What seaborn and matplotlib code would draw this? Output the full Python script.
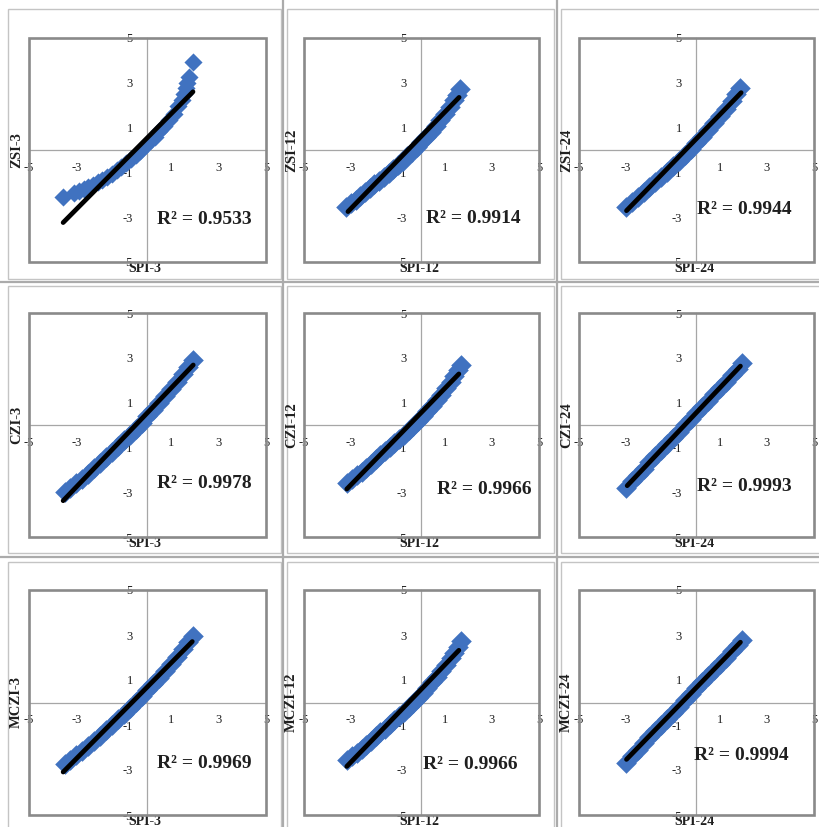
import matplotlib
matplotlib.use("Agg")
import matplotlib.pyplot as plt
import seaborn as sns
from matplotlib.patches import Rectangle
from matplotlib.lines import Line2D

# ---------------- data ----------------
x_labels = ["SPI-3", "SPI-12", "SPI-24"] * 3
y_labels = ["ZSI-3", "ZSI-12", "ZSI-24",
            "CZI-3", "CZI-12", "CZI-24",
            "MCZI-3", "MCZI-12", "MCZI-24"]
r2_values = ["0.9533", "0.9914", "0.9944",
             "0.9978", "0.9966", "0.9993",
             "0.9969", "0.9966", "0.9994"]
tick_values = [-5, -3, -1, 1, 3, 5]

zsi3_x = [-3.56, -3.1, -2.9, -2.7, -2.5, -2.3, -2.1, -1.9, -1.7, -1.5, -1.3, -1.1, -0.9, -0.7,
          -0.5, -0.3, -0.1, 0.1, 0.3, 0.5, 0.7, 0.9, 1.1, 1.3, 1.45, 1.55, 1.62, 1.68, 1.74, 1.92]
zsi3_y = [-2.08, -1.92, -1.85, -1.76, -1.66, -1.55, -1.44, -1.32, -1.19, -1.05, -0.9, -0.75, -0.58, -0.4,
          -0.22, -0.03, 0.17, 0.38, 0.6, 0.83, 1.07, 1.33, 1.62, 1.95, 2.25, 2.5, 2.75, 3.0, 3.25, 3.94]
zsi3_trend_x = [-3.56, 1.92]
zsi3_trend_y = [-3.24, 2.6]

zsi12_x = [-3.2, -3.0, -2.8, -2.6, -2.4, -2.2, -2.0, -1.8, -1.6, -1.4, -1.2, -1.0, -0.8, -0.6,
           -0.4, -0.2, 0.0, 0.2, 0.4, 0.6, 0.8, 1.0, 1.2, 1.4, 1.52, 1.65]
zsi12_y = [-2.53, -2.36, -2.21, -2.05, -1.88, -1.71, -1.53, -1.37, -1.19, -1.02, -0.84, -0.65, -0.47, -0.27,
           -0.08, 0.13, 0.34, 0.57, 0.81, 1.05, 1.32, 1.6, 1.9, 2.23, 2.47, 2.72]
zsi12_trend_x = [-3.13, 1.6]
zsi12_trend_y = [-2.75, 2.35]

zsi24_x = [-3.0, -2.75, -2.5, -2.25, -2.0, -1.75, -1.5, -1.25, -1.0, -0.75, -0.5, -0.25, 0.0, 0.25,
           0.5, 0.75, 1.0, 1.25, 1.5, 1.7, 1.85]
zsi24_y = [-2.53, -2.31, -2.09, -1.87, -1.65, -1.43, -1.2, -0.97, -0.73, -0.48, -0.23, 0.04, 0.31, 0.59,
           0.88, 1.19, 1.51, 1.84, 2.2, 2.51, 2.78]
zsi24_trend_x = [-2.98, 1.9]
zsi24_trend_y = [-2.71, 2.56]

czi3_x = [-3.5, -3.25, -3.0, -2.75, -2.5, -2.25, -2.0, -1.75, -1.5, -1.25, -1.0, -0.75, -0.5, -0.25,
          0.0, 0.25, 0.5, 0.75, 1.0, 1.25, 1.5, 1.7, 1.9]
czi3_y = [-3.01, -2.82, -2.61, -2.4, -2.17, -1.93, -1.7, -1.45, -1.21, -0.95, -0.69, -0.43, -0.16, 0.11,
          0.39, 0.68, 0.97, 1.28, 1.59, 1.93, 2.29, 2.59, 2.9]
czi3_trend_x = [-3.56, 1.93]
czi3_trend_y = [-3.38, 2.68]

czi12_x = [-3.15, -2.95, -2.75, -2.55, -2.35, -2.15, -1.95, -1.75, -1.55, -1.35, -1.15, -0.95, -0.75,
           -0.55, -0.35, -0.15, 0.05, 0.25, 0.45, 0.65, 0.85, 1.05, 1.25, 1.4, 1.55, 1.68]
czi12_y = [-2.58, -2.41, -2.25, -2.08, -1.91, -1.72, -1.54, -1.36, -1.18, -1.0, -0.81, -0.63, -0.43,
           -0.24, -0.03, 0.18, 0.39, 0.62, 0.85, 1.1, 1.36, 1.64, 1.93, 2.18, 2.44, 2.68]
czi12_trend_x = [-3.18, 1.59]
czi12_trend_y = [-2.86, 2.28]

czi24_x = [-3.0, -2.75, -2.5, -2.25, -2.0, -1.75, -1.5, -1.25, -1.0, -0.75, -0.5, -0.25, 0.0, 0.25,
           0.5, 0.75, 1.0, 1.25, 1.5, 1.75, 1.95]
czi24_y = [-2.8, -2.5, -2.22, -1.95, -1.67, -1.4, -1.12, -0.85, -0.57, -0.3, -0.02, 0.26, 0.53, 0.81,
           1.09, 1.37, 1.65, 1.93, 2.22, 2.51, 2.75]
czi24_trend_x = [-2.95, 1.87]
czi24_trend_y = [-2.71, 2.63]

mczi3_x = [-3.5, -3.25, -3.0, -2.75, -2.5, -2.25, -2.0, -1.75, -1.5, -1.25, -1.0, -0.75, -0.5, -0.25,
           0.0, 0.25, 0.5, 0.75, 1.0, 1.25, 1.5, 1.7, 1.9]
mczi3_y = [-2.73, -2.54, -2.34, -2.14, -1.92, -1.7, -1.47, -1.23, -1.0, -0.75, -0.51, -0.25, 0.01, 0.27,
           0.54, 0.82, 1.1, 1.4, 1.7, 2.03, 2.38, 2.67, 2.97]
mczi3_trend_x = [-3.56, 1.89]
mczi3_trend_y = [-3.09, 2.71]

mczi12_x = [-3.15, -2.95, -2.75, -2.55, -2.35, -2.15, -1.95, -1.75, -1.55, -1.35, -1.15, -0.95, -0.75,
            -0.55, -0.35, -0.15, 0.05, 0.25, 0.45, 0.65, 0.85, 1.05, 1.25, 1.4, 1.55, 1.68]
mczi12_y = [-2.56, -2.39, -2.23, -2.06, -1.88, -1.7, -1.51, -1.33, -1.16, -0.97, -0.78, -0.6, -0.4,
            -0.21, 0.0, 0.21, 0.42, 0.65, 0.89, 1.13, 1.4, 1.68, 1.97, 2.21, 2.48, 2.72]
mczi12_trend_x = [-3.18, 1.59]
mczi12_trend_y = [-2.84, 2.32]

mczi24_x = [-3.0, -2.75, -2.5, -2.25, -2.0, -1.75, -1.5, -1.25, -1.0, -0.75, -0.5, -0.25, 0.0, 0.25,
            0.5, 0.75, 1.0, 1.25, 1.5, 1.75, 1.95]
mczi24_y = [-2.7, -2.38, -2.1, -1.82, -1.54, -1.26, -0.99, -0.72, -0.45, -0.18, 0.09, 0.36, 0.63, 0.9,
            1.17, 1.44, 1.71, 1.99, 2.27, 2.55, 2.78]
mczi24_trend_x = [-2.98, 1.87]
mczi24_trend_y = [-2.53, 2.68]

scatter_x = [zsi3_x, zsi12_x, zsi24_x, czi3_x, czi12_x, czi24_x, mczi3_x, mczi12_x, mczi24_x]
scatter_y = [zsi3_y, zsi12_y, zsi24_y, czi3_y, czi12_y, czi24_y, mczi3_y, mczi12_y, mczi24_y]
trend_x = [zsi3_trend_x, zsi12_trend_x, zsi24_trend_x, czi3_trend_x, czi12_trend_x,
           czi24_trend_x, mczi3_trend_x, mczi12_trend_x, mczi24_trend_x]
trend_y = [zsi3_trend_y, zsi12_trend_y, zsi24_trend_y, czi3_trend_y, czi12_trend_y,
           czi24_trend_y, mczi3_trend_y, mczi12_trend_y, mczi24_trend_y]

# ---------------- layout ----------------
W, H = 820, 827
col_left = [29, 304, 579]
col_width = [237, 235, 235]
row_top = [38, 313, 590]
row_height = [224, 224, 225]
# R² label positions (data coords: left x, centre y)
r2_pos = [(0.42, -3.1), (0.2, -3.05), (0.03, -2.65),
          (0.41, -2.63), (0.66, -2.89), (0.03, -2.74),
          (0.41, -2.72), (0.06, -2.76), (-0.11, -2.36)]
marker_size = [85, 110, 110, 110, 110, 110, 110, 110, 110]

sns.set_theme(style="white")
plt.rcParams["font.family"] = ["Liberation Serif", "DejaVu Serif"]

BLUE = "#4072c0"
FRAME = "#8a8a8a"
AXLINE = "#a6a6a6"
TEXT = "#1f1f1f"

fig = plt.figure(figsize=(W / 100, H / 100), dpi=100)
fig.patch.set_facecolor("white")

# chart-area frames and table grid lines (decoration)
chart_cols = [(8, 281), (287, 554), (561, 823)]
chart_rows = [(9, 279), (286, 553), (562, 832)]
for (cx0, cx1) in chart_cols:
    for (cy0, cy1) in chart_rows:
        fig.add_artist(Rectangle((cx0 / W, 1 - cy1 / H), (cx1 - cx0) / W, (cy1 - cy0) / H,
                                 transform=fig.transFigure, fill=False,
                                 edgecolor="#c4c4c4", linewidth=1.0, zorder=0))
for vx in [283, 557]:
    fig.add_artist(Line2D([vx / W, vx / W], [0, 1], transform=fig.transFigure,
                          color="#ababab", linewidth=1.6, zorder=0))
for hy in [282, 557]:
    fig.add_artist(Line2D([0, 1], [1 - hy / H, 1 - hy / H], transform=fig.transFigure,
                          color="#ababab", linewidth=1.6, zorder=0))

for i in range(9):
    r, c = divmod(i, 3)
    left = col_left[c] / W
    width = col_width[c] / W
    height = row_height[r] / H
    bottom = 1 - (row_top[r] + row_height[r]) / H
    ax = fig.add_axes([left, bottom, width, height])
    ax.set_facecolor("white")

    sns.scatterplot(x=scatter_x[i], y=scatter_y[i], marker="D", s=marker_size[i], color=BLUE,
                    linewidth=0, ax=ax, zorder=3)
    sns.lineplot(x=trend_x[i], y=trend_y[i], color="black", linewidth=3.4,
                 estimator=None, sort=False, ax=ax, zorder=4)

    ax.set_xlim(-5, 5)
    ax.set_ylim(-5, 5)
    ax.set_xticks(tick_values)
    ax.set_yticks(tick_values)
    ax.set_xticklabels([str(t) for t in tick_values])
    ax.set_yticklabels([str(t) for t in tick_values])

    for side in ["top", "right"]:
        ax.spines[side].set_visible(False)
    ax.spines["left"].set_position(("data", 0))
    ax.spines["bottom"].set_position(("data", 0))
    for side in ["left", "bottom"]:
        ax.spines[side].set_color(AXLINE)
        ax.spines[side].set_linewidth(0.9)
        ax.spines[side].set_zorder(1)
    ax.add_patch(Rectangle((0, 0), 1, 1, transform=ax.transAxes, fill=False,
                           edgecolor=FRAME, linewidth=1.9, zorder=5, clip_on=False))

    ax.tick_params(axis="x", length=0, pad=8.5, labelsize=9, labelcolor=TEXT)
    ax.tick_params(axis="y", length=0, pad=10.5, labelsize=9, labelcolor=TEXT)

    ax.set_xlabel(x_labels[i], fontsize=10, fontweight="bold", color=TEXT)
    ax.set_ylabel(y_labels[i], fontsize=10.5, fontweight="bold", color=TEXT)
    ax.xaxis.set_label_coords(0.49, 0.0)
    ax.yaxis.set_label_coords(-0.025, 0.5)

    ax.text(r2_pos[i][0], r2_pos[i][1], "R\u00b2 = " + r2_values[i], fontsize=14,
            fontweight="bold", color=TEXT, ha="left", va="center", zorder=6)

fig.savefig("out.png", dpi=100, facecolor="white")
